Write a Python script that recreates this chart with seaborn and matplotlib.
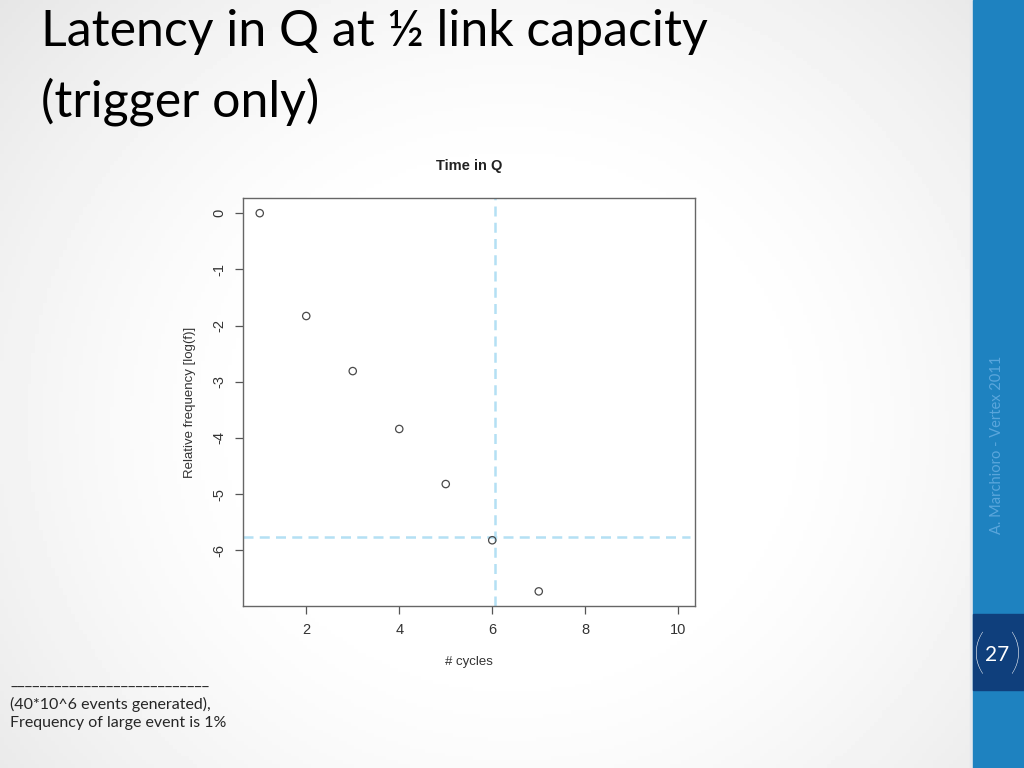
import numpy as np
import pandas as pd
import seaborn as sns
import matplotlib.pyplot as plt
from matplotlib.patches import Rectangle

# data
cycles = [1, 2, 3, 4, 5, 6, 7]
log_freq = [0.0, -1.83, -2.81, -3.84, -4.82, -5.82, -6.73]
cut_x = 6.06
cut_y = -5.77
x_ticks = [2, 4, 6, 8, 10]
y_ticks = [0, -1, -2, -3, -4, -5, -6]

df = pd.DataFrame({'cycles': cycles, 'logf': log_freq})

sns.set_theme(style="white")
plt.rcParams['font.family'] = ['Liberation Sans', 'DejaVu Sans']

fig = plt.figure(figsize=(10.24, 7.68), dpi=100)

# slide background with soft grey vignette
bg = fig.add_axes([0, 0, 1, 1], zorder=-10)
yy, xx = np.mgrid[0:1:200j, 0:1:260j]
d = np.sqrt(((xx - 0.5) / 0.6) ** 2 + ((yy - 0.45) / 0.75) ** 2)
shade = 1 - 0.16 * np.clip(d - 0.4, 0, None) ** 1.4
bg.imshow(shade, cmap='gray', vmin=0, vmax=1, extent=[0, 1, 0, 1],
          aspect='auto', origin='lower')
bg.set_xlim(0, 1)
bg.set_ylim(0, 1)
bg.axis('off')

# right side band
bg.add_patch(Rectangle((970 / 1024, 0), 3 / 1024, 1, color='#e4e8ee', zorder=2))
bg.add_patch(Rectangle((973 / 1024, 0), 51 / 1024, 1, color='#1e82c0', zorder=2))
bg.add_patch(Rectangle((973 / 1024, 1 - 690 / 768), 51 / 1024, 76 / 768,
                       color='#0f3f7c', zorder=3))
fig.text(997 / 1024, 1 - 445 / 768, 'A. Marchioro - Vertex 2011', rotation=90,
         ha='center', va='center', color='#5aa6dc', fontsize=10.5,
         family=['Lato', 'DejaVu Sans'])
fig.text(997 / 1024, 1 - 655 / 768, '27', ha='center', va='center',
         color='white', fontsize=15, family=['Lato', 'DejaVu Sans'])
fig.text(979 / 1024, 1 - 656 / 768, '(', ha='center', va='center',
         color='white', fontsize=34, fontweight='light',
         family=['Lato', 'DejaVu Sans'])
fig.text(1015 / 1024, 1 - 656 / 768, ')', ha='center', va='center',
         color='white', fontsize=34, fontweight='light',
         family=['Lato', 'DejaVu Sans'])

# slide title
fig.text(41 / 1024, 1 - 32 / 768, 'Latency in Q at ½ link capacity',
         ha='left', va='center', fontsize=36, color='black',
         family=['Lato', 'DejaVu Sans'])
fig.text(41 / 1024, 1 - 102 / 768, '(trigger only)',
         ha='left', va='center', fontsize=36, color='black',
         family=['Lato', 'DejaVu Sans'])

# footnote
fig.text(10 / 1024, 1 - 682 / 768, '_' * 27, ha='left',
         va='center', fontsize=11.5, family=['Lato', 'DejaVu Sans'])
fig.text(10 / 1024, 1 - 704 / 768, '(40*10^6 events generated),', ha='left',
         va='center', fontsize=11.5, family=['Lato', 'DejaVu Sans'])
fig.text(10 / 1024, 1 - 723 / 768, 'Frequency of large event is 1%', ha='left',
         va='center', fontsize=11.5, family=['Lato', 'DejaVu Sans'])

# the R style plot
ax = fig.add_axes([243 / 1024, 1 - 606 / 768, 452 / 1024, 408 / 768])
ax.set_facecolor('white')
sns.scatterplot(data=df, x='cycles', y='logf', ax=ax, s=28, marker='o',
                facecolor='none', edgecolor='#4a4a4a', linewidth=0.9, zorder=3)
ax.axvline(cut_x, color='#b4e0f4', linewidth=1.8, dashes=(4, 2.5), zorder=2)
ax.axhline(cut_y, color='#b4e0f4', linewidth=1.8, dashes=(4, 2.5), zorder=2,
           xmax=0.99)
ax.set_xlim(0.64, 10.36)
ax.set_ylim(-6.99, 0.27)
ax.set_xticks(x_ticks)
ax.set_yticks(y_ticks)
ax.set_yticklabels([str(v) for v in y_ticks], rotation=90, va='center')
ax.tick_params(axis='both', direction='out', length=6, width=0.9,
               color='#555555', labelsize=10.5, labelcolor='#333333',
               left=True, bottom=True, pad=6)
for sp in ax.spines.values():
    sp.set_color('#666666')
    sp.set_linewidth(1.0)
ax.set_xlabel('# cycles', fontsize=9.5, color='#333333', labelpad=14)
ax.set_ylabel('Relative frequency [log(f)]', fontsize=9.5, color='#333333',
              labelpad=12)
ax.set_title('Time in Q', fontsize=10.5, fontweight='bold', color='#222222',
             pad=20)

fig.savefig('out.png', dpi=100)
